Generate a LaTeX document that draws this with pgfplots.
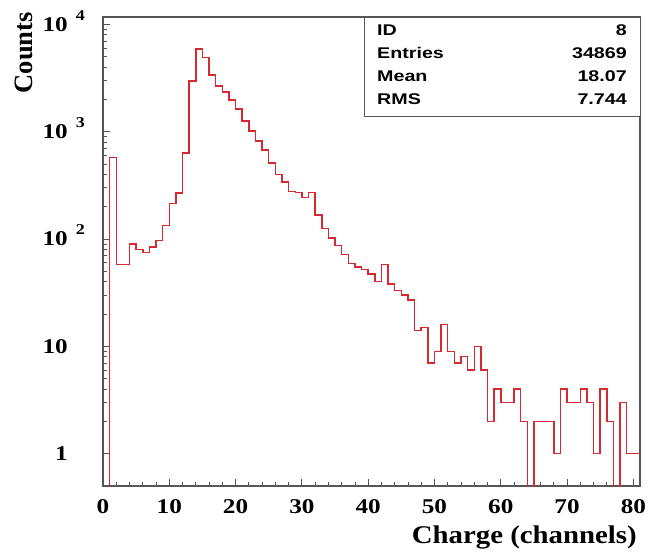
\documentclass[border=0pt]{standalone}
\usepackage{fontspec}
\setmainfont{Liberation Serif}
\newfontfamily\tickfont{Liberation Serif}[FakeStretch=1.2]
\newfontfamily\labfont{Liberation Serif}[FakeStretch=1.13]
\newfontfamily\statfont{Liberation Sans}[FakeStretch=1.27]
\usepackage{pgfplots}
\usepackage{pgfplotstable}
\pgfplotsset{compat=1.18}
\definecolor{histred}{RGB}{212,42,48}
\definecolor{framegray}{RGB}{85,85,85}

% 10^n label in the PAW style: exponent hangs to the right
\newcommand{\tenpow}[1]{\textbf{10}\rlap{\hspace{8pt}\raisebox{11pt}[0pt][0pt]{\fontsize{15}{15}\selectfont\textbf{#1}}}}

% bin low edge, counts (bin width 1 channel)
\pgfplotstableread{
x c
0 0
1 574
2 58
3 58
4 90
5 80
6 75
7 84
8 97
9 134
10 214
11 268
12 635
13 2970
14 5900
15 4900
16 3360
17 2670
18 2350
19 1977
20 1630
21 1262
22 1010
23 815
24 677
25 509
26 399
27 340
28 278
29 271
30 244
31 271
32 167
33 125
34 102
35 87
36 72
37 59
38 55
39 52
40 47
41 40
42 58
43 38
44 33
45 30
46 27
47 14
48 15
49 7
50 9
51 16
52 9
53 7
54 8
55 6
56 10
57 6
58 2
59 4
60 3
61 3
62 4
63 2
64 0
65 2
66 2
67 2
68 1
69 4
70 3
71 3
72 4
73 3
74 1
75 4
76 2
77 0
78 3
79 1
80 1
81 1
}\charge

\begin{document}
\begin{tikzpicture}
\begin{axis}[
  name=ax,
  scale only axis,
  width=537pt, height=469pt,
  ymode=log,
  xmin=0, xmax=81,
  ymin=0.5, ymax=11700,
  xtick={0,10,...,80},
  minor x tick num=4,
  ytick={1,10,100,1000,10000},
  yticklabels={\textbf{1},\textbf{10},\tenpow{2},\tenpow{3},\tenpow{4}},
  /pgf/number format/assume math mode=true,
  tick pos=left,
  tick align=inside,
  major tick length=7pt,
  minor tick length=4pt,
  tick style={framegray, line width=0.8pt},
  axis line style={framegray, line width=1.3pt},
  xticklabel style={font=\tickfont\bfseries\fontsize{21}{21}\selectfont, inner sep=0pt, anchor=north, yshift=-13pt},
  yticklabel style={font=\tickfont\bfseries\fontsize{21}{21}\selectfont, inner sep=0pt, anchor=east, xshift=-35pt},
]
\addplot[const plot, draw=histred, line width=1.5pt] table[x=x, y expr={max(\thisrow{c},0.1)}] {\charge};
\end{axis}

\begin{scope}[shift={(ax.south west)}]
  \node[rotate=90, anchor=base east, inner sep=0pt, font=\bfseries\fontsize{26.5}{30}\selectfont] at (-70pt,474pt) {Counts};
  \node[anchor=base east, inner sep=0pt, font=\labfont\bfseries\fontsize{25.5}{30}\selectfont] at (534pt,-58pt) {Charge (channels)};
  \draw[framegray, line width=0.9pt, fill=white] (261pt,370pt) rectangle (537pt,469pt);
  \begin{scope}[every node/.style={inner sep=0pt, font=\statfont\bfseries\fontsize{15.5}{18}\selectfont}]
    \node[anchor=base west] at (274pt,450pt) {ID};
    \node[anchor=base west] at (274pt,427pt) {Entries};
    \node[anchor=base west] at (274pt,404pt) {Mean};
    \node[anchor=base west] at (274pt,381pt) {RMS};
    \node[anchor=base east] at (524pt,450pt) {8};
    \node[anchor=base east] at (524pt,427pt) {34869};
    \node[anchor=base east] at (524pt,404pt) {18.07};
    \node[anchor=base east] at (524pt,381pt) {7.744};
  \end{scope}
  \pgfresetboundingbox
  \path (-103pt,-68pt) rectangle (545pt,486pt);
\end{scope}
\end{tikzpicture}
\end{document}
